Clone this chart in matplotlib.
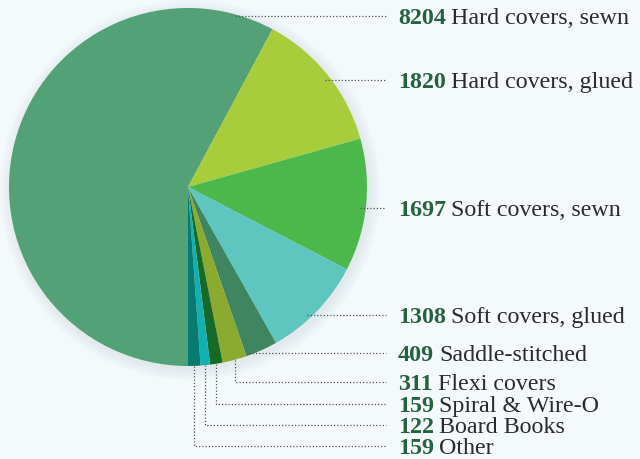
import numpy as np
import matplotlib.pyplot as plt

# book binding counts, clockwise from the bottom
counts = [8204, 1820, 1697, 1308, 409, 311, 159, 122, 159]
labels = ['Hard covers, sewn', 'Hard covers, glued', 'Soft covers, sewn',
          'Soft covers, glued', 'Saddle-stitched', 'Flexi covers',
          'Spiral & Wire-O', 'Board Books', 'Other']
colors = ['#52a177', '#a7cd3a', '#4cb84b', '#5ec6bf', '#3e8560',
          '#8aab2f', '#176a26', '#12b0b1', '#077b70']

# label rows (pixel rows from the top)
label_rows = [16, 80, 208, 315, 353, 382, 404, 425, 446]

W, H = 640, 459
BG = '#f4f9fc'
NUM_COLOR = '#25623f'
TXT_COLOR = '#2b2b2b'
cx, cy, R = 188, H - 187, 179
text_x = 398
line_end = 386

fig = plt.figure(figsize=(W / 100, H / 100), dpi=100, facecolor=BG)
ax = fig.add_axes([0, 0, 1, 1])
ax.set_facecolor(BG)

# soft shadow
for i in range(8):
    ax.add_patch(plt.Circle((cx + 2, cy - 3), R + 1 + i * 1.5, color='#9aaab5',
                            alpha=0.025, lw=0, zorder=0))

wedges, _ = ax.pie(counts, colors=colors, startangle=270, counterclock=False,
                   center=(cx, cy), radius=R, frame=True,
                   wedgeprops=dict(linewidth=0))
ax.set_xlim(0, W)
ax.set_ylim(0, H)
ax.set_aspect('equal')
ax.axis('off')

line_kw = dict(color='#555555', lw=0.9, ls=(0, (1, 1.6)), zorder=1)
for i, w in enumerate(wedges):
    ty = H - label_rows[i]
    if i <= 4:
        dy = ty - cy
        x0 = cx + np.sqrt(max(R ** 2 - dy ** 2, 0)) - 6
        ax.plot([x0, line_end], [ty, ty], **line_kw)
    else:
        mid = np.radians((w.theta1 + w.theta2) / 2)
        vx = cx + R * np.cos(mid)
        vy = cy + R * np.sin(mid)
        ax.plot([vx, vx, line_end], [vy, ty, ty], **line_kw)

fig.canvas.draw()
r = fig.canvas.get_renderer()
font = 'Liberation Serif'
fs = 17.3
for i in range(len(counts)):
    ty = H - label_rows[i]
    t = ax.text(text_x, ty, str(counts[i]), fontsize=fs, fontweight='bold',
                color=NUM_COLOR, family=font, va='center_baseline', ha='left')
    bb = t.get_window_extent(renderer=r)
    x1 = ax.transData.inverted().transform((bb.x1, bb.y0))[0]
    ax.text(x1 + 5, ty, labels[i], fontsize=fs, color=TXT_COLOR, family=font,
            va='center_baseline', ha='left')

fig.savefig('out.png', dpi=100, facecolor=BG)
